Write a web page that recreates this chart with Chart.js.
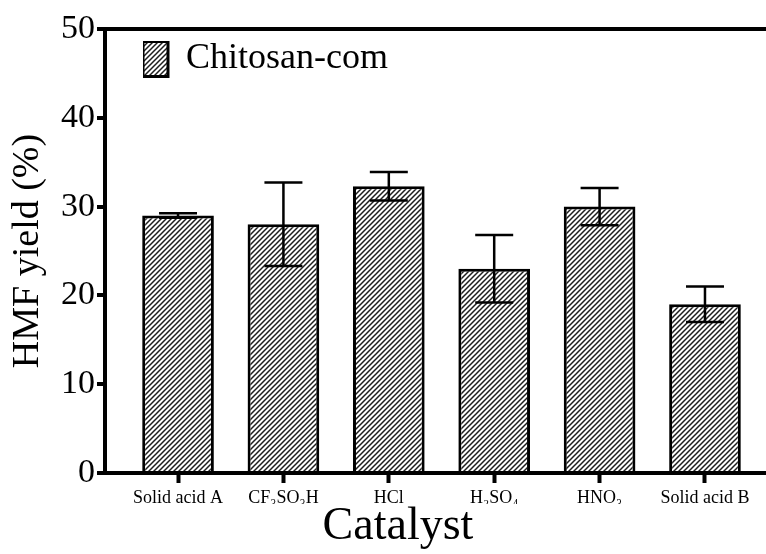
<!DOCTYPE html>
<html>
<head>
<meta charset="utf-8">
<script src="https://cdn.jsdelivr.net/npm/chart.js@4.4.1/dist/chart.umd.min.js"></script>
<style>
  html, body { margin: 0; padding: 0; background: #fff; overflow: hidden; }
  canvas { display: block; }
</style>
</head>
<body>
<canvas id="c" width="766" height="554"></canvas>
<script>
// ---- data ----
const categories = ['Solid acid A', 'CF₃SO₃H', 'HCl', 'H₂SO₄', 'HNO₃', 'Solid acid B'];
const yieldValues = [29.0, 28.0, 32.3, 23.0, 30.0, 19.0];
const yieldErrors = [0.25, 4.7, 1.6, 3.8, 2.1, 2.0];
const yTicks = [0, 10, 20, 30, 40, 50];
const seriesName = 'Chitosan-com';
const xTitle = 'Catalyst';
const yTitle = 'HMF yield (%)';

const FONT = "'Liberation Serif', 'Times New Roman', 'DejaVu Serif', serif";
Chart.defaults.font.family = FONT;
Chart.defaults.color = '#000';

function hatchPattern() {
  const s = 5;
  const c = document.createElement('canvas');
  c.width = s; c.height = s;
  const g = c.getContext('2d');
  g.fillStyle = '#fff';
  g.fillRect(0, 0, s, s);
  g.strokeStyle = '#1e1e1e';
  g.lineWidth = 1.5;
  g.beginPath();
  g.moveTo(-1, 1); g.lineTo(1, -1);
  g.moveTo(0, s); g.lineTo(s, 0);
  g.moveTo(s - 1, s + 1); g.lineTo(s + 1, s - 1);
  g.stroke();
  return g.createPattern(c, 'repeat');
}

const errorBars = {
  id: 'errorBars',
  afterDatasetsDraw(chart) {
    const meta = chart.getDatasetMeta(0);
    const ys = chart.scales.y;
    const ctx = chart.ctx;
    ctx.save();
    ctx.strokeStyle = '#000';
    ctx.lineWidth = 2.5;
    meta.data.forEach((bar, i) => {
      const v = yieldValues[i], e = yieldErrors[i];
      const top = ys.getPixelForValue(v + e);
      const bot = ys.getPixelForValue(v - e);
      const half = bar.width * 0.265;
      ctx.beginPath();
      ctx.moveTo(bar.x, top); ctx.lineTo(bar.x, bot);
      ctx.moveTo(bar.x - half, top); ctx.lineTo(bar.x + half, top);
      ctx.moveTo(bar.x - half, bot); ctx.lineTo(bar.x + half, bot);
      ctx.stroke();
    });
    ctx.restore();
  }
};

const legendPlace = {
  id: 'legendPlace',
  afterLayout(chart) {
    const lg = chart.legend;
    if (!lg) return;
    const ca = chart.chartArea;
    const w = lg.width, h = lg.height;
    lg.left = ca.left + 38;
    lg.top = ca.top + 12;
    lg.right = lg.left + w;
    lg.bottom = lg.top + h;
  }
};

new Chart(document.getElementById('c'), {
  type: 'bar',
  data: {
    datasets: [{
      label: seriesName,
      data: yieldValues.map((v, i) => ({ x: i, y: v })),
      backgroundColor: hatchPattern(),
      borderColor: '#000',
      borderWidth: 3,
      categoryPercentage: 1,
      barPercentage: 0.68
    }]
  },
  options: {
    responsive: false,
    animation: false,
    layout: { padding: { left: 30, top: 29, right: 0, bottom: 0 } },
    scales: {
      x: {
        type: 'linear',
        min: -0.693,
        max: 5.579,
        offset: false,
        afterFit(s) { s.height = 31; },
        grid: { display: true, drawOnChartArea: false, drawTicks: true, tickLength: 10, tickWidth: 4, tickColor: '#000', offset: false },
        border: { display: true, color: '#000', width: 4 },
        ticks: {
          stepSize: 1, includeBounds: false, autoSkip: false, maxRotation: 0, minRotation: 0,
          padding: 4, color: '#000', font: { size: 18 },
          callback: (v) => { const k = Math.round(v); return (Math.abs(v - k) < 1e-6 && categories[k]) ? categories[k] : ''; }
        }
      },
      y: {
        min: 0,
        max: 50,
        afterFit(s) { s.width = 75; },
        afterBuildTicks(s) { s.ticks = yTicks.map(v => ({ value: v })); },
        grid: {
          drawOnChartArea: true,
          color: (c) => (c.tick && c.tick.value === 50) ? '#000' : 'rgba(0,0,0,0)',
          lineWidth: 4,
          drawTicks: true, tickLength: 8, tickWidth: 4, tickColor: '#000'
        },
        border: { display: true, color: '#000', width: 4 },
        ticks: { padding: 2, color: '#000', font: { size: 34 } },
        title: { display: true, text: yTitle, color: '#000', font: { size: 38, lineHeight: 1 }, padding: { top: -21, bottom: 0 } }
      }
    },
    plugins: {
      tooltip: { enabled: false },
      legend: {
        display: true,
        position: 'chartArea',
        align: 'start',
        labels: { boxWidth: 25, boxHeight: 35, padding: 0, color: '#000', font: { size: 36 } }
      },
      title: {
        display: true,
        position: 'bottom',
        text: xTitle,
        color: '#000',
        font: { size: 46, weight: 'normal', lineHeight: 1 },
        padding: { top: 0, bottom: 4 }
      }
    }
  },
  plugins: [errorBars, legendPlace]
});
</script>
</body>
</html>
